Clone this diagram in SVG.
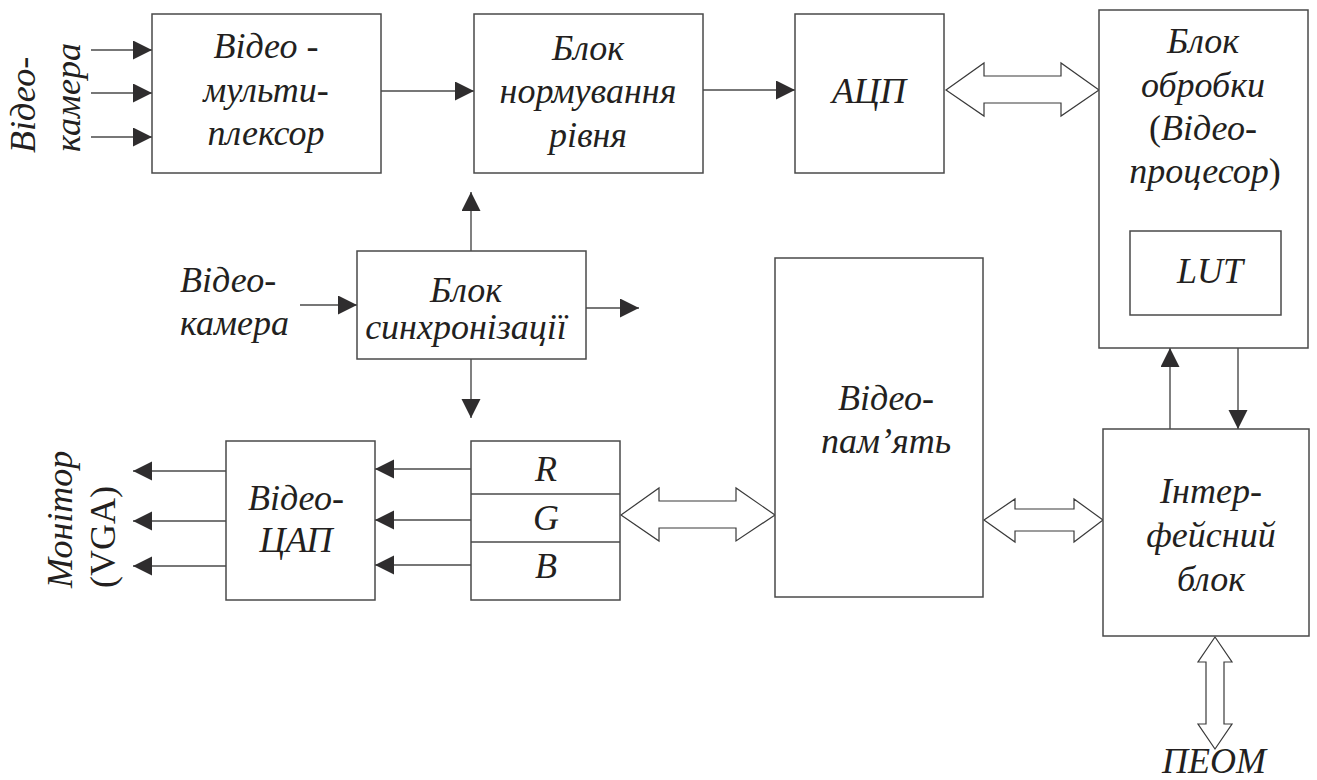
<svg xmlns="http://www.w3.org/2000/svg" width="1317" height="780" viewBox="0 0 1317 780">
<defs>
<marker id="ah" markerUnits="userSpaceOnUse" markerWidth="20" markerHeight="20" refX="19" refY="9.5" orient="auto">
<path d="M0,0 L19,9.5 L0,19 z" fill="#2f2d2e"/>
</marker>
<style>
.box{fill:#fff;stroke:#4a4a4a;stroke-width:1.5}
.ln{fill:none;stroke:#4a4a4a;stroke-width:1.4}
.ar{fill:none;stroke:#4a4a4a;stroke-width:1.4;marker-end:url(#ah)}
.ha{fill:#fff;stroke:#3a3a3a;stroke-width:1.2}
.c{text-anchor:middle}
.up{font-style:normal}
</style>
</defs>
<rect width="1317" height="780" fill="#fff"/>

<g id="connectors">
<line class="ar" x1="91" y1="50" x2="152" y2="50"/>
<line class="ar" x1="91" y1="93" x2="152" y2="93"/>
<line class="ar" x1="91" y1="137" x2="152" y2="137"/>
<line class="ar" x1="381" y1="91" x2="474" y2="91"/>
<line class="ar" x1="703" y1="90" x2="795" y2="90"/>
<polygon class="ha" points="946,90 984,63 984,76 1061,76 1061,63 1099,90 1061,116 1061,103 984,103 984,116"/>
<line class="ar" x1="471" y1="251" x2="471" y2="192"/>
<line class="ar" x1="471" y1="359" x2="471" y2="418"/>
<line class="ar" x1="586" y1="308" x2="639" y2="308"/>
<line class="ar" x1="300" y1="305" x2="357" y2="305"/>
<line class="ar" x1="1170" y1="429" x2="1170" y2="348"/>
<line class="ar" x1="1238" y1="348" x2="1238" y2="429"/>
<line class="ar" x1="471" y1="469" x2="375" y2="469"/>
<line class="ar" x1="471" y1="520" x2="375" y2="520"/>
<line class="ar" x1="471" y1="565" x2="375" y2="565"/>
<line class="ar" x1="226" y1="471" x2="133" y2="471"/>
<line class="ar" x1="226" y1="521" x2="133" y2="521"/>
<line class="ar" x1="226" y1="566" x2="133" y2="566"/>
<polygon class="ha" points="621,515 659,488 659,501 736,501 736,488 775,515 736,541 736,528 659,528 659,541"/>
<polygon class="ha" points="984,520 1015,499 1015,509 1074,509 1074,499 1103,520 1074,542 1074,531 1015,531 1015,542"/>
<polygon class="ha" points="1215,637 1232,662 1224,662 1224,724 1232,724 1215,749 1198,724 1206,724 1206,662 1198,662"/>
</g>

<g font-family="Liberation Serif, DejaVu Serif, serif" font-size="36" font-style="italic" fill="#231f20">

<g id="label-camera-top">
<text transform="translate(35,153) rotate(-90)">Відео-</text>
<text transform="translate(80,152) rotate(-90)">камера</text>
</g>

<g id="mux">
<rect class="box" x="152" y="14" width="229" height="159"/>
<text class="c" x="266" y="58">Відео -</text>
<text class="c" x="266" y="102">мульти-</text>
<text class="c" x="266" y="145">плексор</text>
</g>

<g id="norm">
<rect class="box" x="474" y="14" width="229" height="159"/>
<text class="c" x="588" y="60">Блок</text>
<text class="c" x="588" y="103">нормування</text>
<text class="c" x="588" y="147">рівня</text>
</g>

<g id="adc">
<rect class="box" x="795" y="14" width="149" height="159"/>
<text class="c" x="869" y="103">АЦП</text>
</g>

<g id="proc">
<rect class="box" x="1099" y="10" width="209" height="338"/>
<text class="c" x="1203" y="53">Блок</text>
<text class="c" x="1203" y="97">обробки</text>
<text class="c" x="1203" y="140"><tspan class="up">(</tspan>Відео-</text>
<text class="c" x="1205" y="183">процесор<tspan class="up">)</tspan></text>
</g>

<g id="lut">
<rect class="box" x="1130" y="231" width="151" height="84"/>
<text class="c" x="1210" y="283">LUT</text>
</g>

<g id="label-camera-sync">
<text x="180" y="292">Відео-</text>
<text x="180" y="335">камера</text>
</g>

<g id="sync">
<rect class="box" x="357" y="251" width="229" height="108"/>
<text class="c" x="466" y="302">Блок</text>
<text class="c" x="466" y="339">синхронізації</text>
</g>

<g id="memory">
<rect class="box" x="775" y="258" width="208" height="339"/>
<text class="c" x="886" y="410">Відео-</text>
<text class="c" x="886" y="453">пам’ять</text>
</g>

<g id="interface">
<rect class="box" x="1103" y="429" width="206" height="207"/>
<text class="c" x="1211" y="503">Інтер-</text>
<text class="c" x="1211" y="547">фейсний</text>
<text class="c" x="1211" y="591">блок</text>
</g>

<g id="rgb">
<rect class="box" x="471" y="441" width="149" height="159"/>
<line class="ln" x1="471" y1="494" x2="620" y2="494"/>
<line class="ln" x1="471" y1="542" x2="620" y2="542"/>
<text class="c" x="546" y="481">R</text>
<text class="c" x="546" y="530">G</text>
<text class="c" x="546" y="578">B</text>
</g>

<g id="dac">
<rect class="box" x="226" y="441" width="149" height="159"/>
<text class="c" x="296" y="510">Відео-</text>
<text class="c" x="296" y="552">ЦАП</text>
</g>

<g id="label-monitor">
<text transform="translate(72,588) rotate(-90)">Монітор</text>
<text class="up" transform="translate(115,588) rotate(-90)">(VGA)</text>
</g>

<g id="label-pc">
<text class="c" x="1214" y="773">ПЕОМ</text>
</g>

</g>
</svg>
